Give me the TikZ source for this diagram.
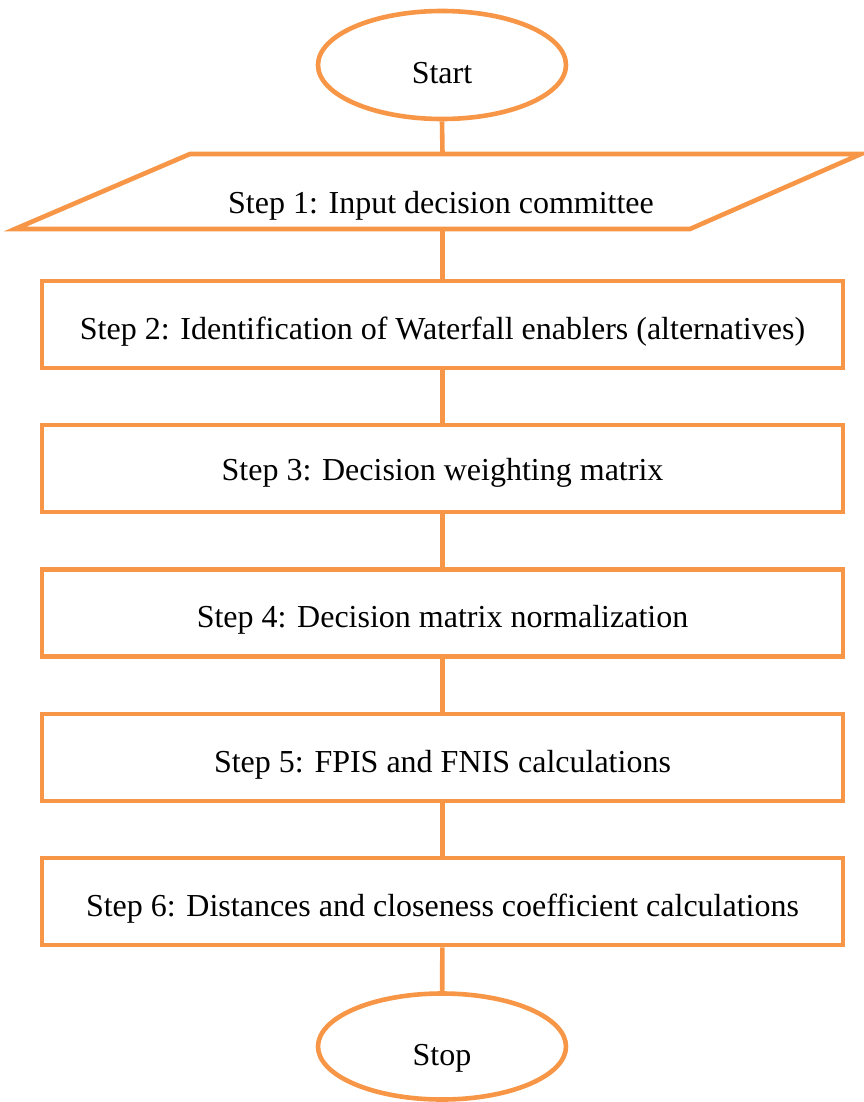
\documentclass[tikz,border=0pt]{standalone}
\usepackage{fontspec}
\setmainfont{Liberation Serif}
\usetikzlibrary{shapes.geometric}
\definecolor{flow}{HTML}{F79646}
\begin{document}
\begin{tikzpicture}[x=0.5pt,y=-0.5pt,
  every node/.style={font=\fontsize{16}{19}\selectfont, inner sep=0pt},
  term/.style={ellipse, draw=flow, line width=2.3pt, minimum width=124pt, minimum height=54pt},
  stepbox/.style={rectangle, draw=flow, line width=2.3pt, minimum width=400.5pt, minimum height=43.5pt},
  iobox/.style={rectangle, minimum width=336pt, minimum height=37.5pt},
  link/.style={draw=flow, line width=2.3pt}]
\useasboundingbox (0,0) rectangle (863,1102);
% shapes
\node[term] (start) at (442,65) {};
\node[iobox] (s1) at (442.5,191.5) {};
\draw[link, line join=miter] (15,229) -- (190,154) -- (861,154) -- (690,229) -- cycle;
\node[stepbox] (s2) at (442.5,324.5) {};
\node[stepbox] (s3) at (442.5,468.5) {};
\node[stepbox] (s4) at (442.5,613) {};
\node[stepbox] (s5) at (442.5,757.5) {};
\node[stepbox] (s6) at (442.5,901.5) {};
\node[term, minimum height=53pt] (stop) at (442,1046.5) {};
% texts
\node[yshift=-4pt] (tstart) at (start) {Start};
\node[yshift=-7pt] (t1) at (441,191.5) {Step 1: Input decision committee};
\node[yshift=-3.5pt] (t2) at (s2) {Step 2: Identification of Waterfall enablers (alternatives)};
\node[yshift=-2pt] (t3) at (s3) {Step 3: Decision weighting matrix};
\node[yshift=-3.5pt] (t4) at (s4) {Step 4: Decision matrix normalization};
\node[yshift=-3.5pt] (t5) at (s5) {Step 5: FPIS and FNIS calculations};
\node[yshift=-3.5pt] (t6) at (s6) {Step 6: Distances and closeness coefficient calculations};
\node[yshift=-6pt] (tstop) at (stop) {Stop};
% connectors
\draw[link] (start.south) -- (s1.north);
\draw[link] (s1.south) -- (s2.north);
\draw[link] (s2) -- (s3);
\draw[link] (s3) -- (s4);
\draw[link] (s4) -- (s5);
\draw[link] (s5) -- (s6);
\draw[link] (s6) -- (stop);
\end{tikzpicture}
\end{document}
